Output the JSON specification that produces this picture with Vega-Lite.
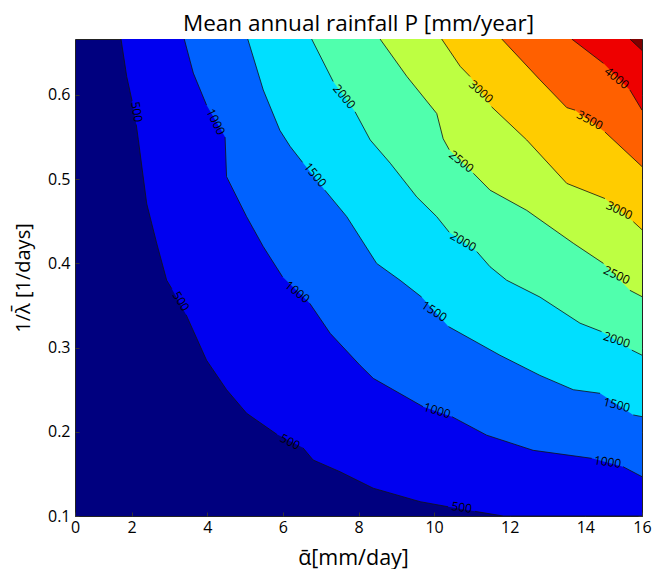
{
  "$schema": "https://vega.github.io/schema/vega-lite/v6.json",
  "width": 567,
  "height": 477,
  "autosize": "none",
  "padding": {"left": 75, "top": 39, "right": 22, "bottom": 53},
  "background": "white",
  "config": {
    "view": {"stroke": "#222222", "strokeWidth": 1, "fill": "#00007F"},
    "font": "Open Sans",
    "axis": {"grid": false, "domain": false, "zindex": 1, "tickColor": "#333333", "tickSize": -4, "labelFontSize": 16, "labelColor": "black", "titleFontSize": 20, "titleFontWeight": "normal", "titleColor": "black", "labelFont": "Open Sans", "titleFont": "Open Sans"}
  },
  "title": {"text": "Mean annual rainfall P [mm/year]", "fontSize": 22.5, "fontWeight": "normal", "font": "Open Sans", "color": "black", "offset": 3},
  "datasets": {
    "c": [
      {"level": 500, "seg": 1, "x": 1.717, "y": 0.6665},
      {"level": 500, "seg": 1, "x": 1.868, "y": 0.622},
      {"level": 500, "seg": 1, "x": 2.01, "y": 0.593},
      {"level": 500, "seg": 2, "x": 2.12, "y": 0.565},
      {"level": 500, "seg": 2, "x": 2.175, "y": 0.547},
      {"level": 500, "seg": 2, "x": 2.397, "y": 0.471},
      {"level": 500, "seg": 2, "x": 2.661, "y": 0.424},
      {"level": 500, "seg": 2, "x": 2.926, "y": 0.38},
      {"level": 500, "seg": 2, "x": 3.06, "y": 0.37},
      {"level": 500, "seg": 3, "x": 3.44, "y": 0.339},
      {"level": 500, "seg": 3, "x": 3.98, "y": 0.285},
      {"level": 500, "seg": 3, "x": 4.51, "y": 0.25},
      {"level": 500, "seg": 3, "x": 5.04, "y": 0.222},
      {"level": 500, "seg": 3, "x": 5.84, "y": 0.197},
      {"level": 500, "seg": 4, "x": 6.53, "y": 0.181},
      {"level": 500, "seg": 4, "x": 6.8, "y": 0.1665},
      {"level": 500, "seg": 4, "x": 7.51, "y": 0.1526},
      {"level": 500, "seg": 4, "x": 8.39, "y": 0.133},
      {"level": 500, "seg": 4, "x": 9.63, "y": 0.117},
      {"level": 500, "seg": 4, "x": 10.37, "y": 0.111},
      {"level": 500, "seg": 5, "x": 11.08, "y": 0.1055},
      {"level": 500, "seg": 5, "x": 11.83, "y": 0.1},
      {"level": 500, "seg": 5, "x": 15.5, "y": 0.1},
      {"level": 1000, "seg": 1, "x": 3.39, "y": 0.6665},
      {"level": 1000, "seg": 1, "x": 3.63, "y": 0.626},
      {"level": 1000, "seg": 1, "x": 3.98, "y": 0.588},
      {"level": 1000, "seg": 2, "x": 4.47, "y": 0.55},
      {"level": 1000, "seg": 2, "x": 4.51, "y": 0.503},
      {"level": 1000, "seg": 2, "x": 5.04, "y": 0.4555},
      {"level": 1000, "seg": 2, "x": 5.48, "y": 0.42},
      {"level": 1000, "seg": 2, "x": 5.99, "y": 0.384},
      {"level": 1000, "seg": 3, "x": 6.71, "y": 0.3526},
      {"level": 1000, "seg": 3, "x": 7.25, "y": 0.317},
      {"level": 1000, "seg": 3, "x": 8.04, "y": 0.279},
      {"level": 1000, "seg": 3, "x": 8.39, "y": 0.2635},
      {"level": 1000, "seg": 3, "x": 9.71, "y": 0.2298},
      {"level": 1000, "seg": 4, "x": 10.47, "y": 0.218},
      {"level": 1000, "seg": 4, "x": 11.39, "y": 0.196},
      {"level": 1000, "seg": 4, "x": 12.62, "y": 0.178},
      {"level": 1000, "seg": 4, "x": 14.17, "y": 0.1685},
      {"level": 1000, "seg": 5, "x": 15.0, "y": 0.1585},
      {"level": 1000, "seg": 5, "x": 15.5, "y": 0.1467},
      {"level": 1500, "seg": 1, "x": 5.07, "y": 0.6665},
      {"level": 1500, "seg": 1, "x": 5.48, "y": 0.606},
      {"level": 1500, "seg": 1, "x": 5.92, "y": 0.558},
      {"level": 1500, "seg": 1, "x": 6.19, "y": 0.539},
      {"level": 1500, "seg": 1, "x": 6.52, "y": 0.52},
      {"level": 1500, "seg": 2, "x": 7.11, "y": 0.487},
      {"level": 1500, "seg": 2, "x": 7.69, "y": 0.4555},
      {"level": 1500, "seg": 2, "x": 8.48, "y": 0.4},
      {"level": 1500, "seg": 2, "x": 9.1, "y": 0.38},
      {"level": 1500, "seg": 2, "x": 9.67, "y": 0.36},
      {"level": 1500, "seg": 3, "x": 10.38, "y": 0.325},
      {"level": 1500, "seg": 3, "x": 11.74, "y": 0.291},
      {"level": 1500, "seg": 3, "x": 12.8, "y": 0.267},
      {"level": 1500, "seg": 3, "x": 13.68, "y": 0.25},
      {"level": 1500, "seg": 3, "x": 14.39, "y": 0.2457},
      {"level": 1500, "seg": 4, "x": 15.27, "y": 0.22},
      {"level": 1500, "seg": 4, "x": 15.5, "y": 0.218},
      {"level": 2000, "seg": 1, "x": 6.76, "y": 0.6665},
      {"level": 2000, "seg": 1, "x": 7.33, "y": 0.616},
      {"level": 2000, "seg": 2, "x": 7.91, "y": 0.58},
      {"level": 2000, "seg": 2, "x": 8.31, "y": 0.5466},
      {"level": 2000, "seg": 2, "x": 8.84, "y": 0.519},
      {"level": 2000, "seg": 2, "x": 9.54, "y": 0.479},
      {"level": 2000, "seg": 2, "x": 10.07, "y": 0.4555},
      {"level": 2000, "seg": 2, "x": 10.4, "y": 0.437},
      {"level": 2000, "seg": 3, "x": 11.13, "y": 0.414},
      {"level": 2000, "seg": 3, "x": 11.48, "y": 0.396},
      {"level": 2000, "seg": 3, "x": 11.92, "y": 0.38},
      {"level": 2000, "seg": 3, "x": 12.8, "y": 0.36},
      {"level": 2000, "seg": 3, "x": 13.86, "y": 0.329},
      {"level": 2000, "seg": 3, "x": 14.43, "y": 0.319},
      {"level": 2000, "seg": 4, "x": 15.23, "y": 0.297},
      {"level": 2000, "seg": 4, "x": 15.5, "y": 0.291},
      {"level": 2500, "seg": 1, "x": 8.57, "y": 0.6665},
      {"level": 2500, "seg": 1, "x": 9.28, "y": 0.622},
      {"level": 2500, "seg": 1, "x": 10.07, "y": 0.578},
      {"level": 2500, "seg": 1, "x": 10.24, "y": 0.548},
      {"level": 2500, "seg": 1, "x": 10.4, "y": 0.535},
      {"level": 2500, "seg": 2, "x": 11.04, "y": 0.507},
      {"level": 2500, "seg": 2, "x": 11.48, "y": 0.487},
      {"level": 2500, "seg": 2, "x": 12.45, "y": 0.463},
      {"level": 2500, "seg": 2, "x": 13.68, "y": 0.424},
      {"level": 2500, "seg": 2, "x": 14.48, "y": 0.4},
      {"level": 2500, "seg": 3, "x": 15.18, "y": 0.368},
      {"level": 2500, "seg": 3, "x": 15.5, "y": 0.3605},
      {"level": 3000, "seg": 1, "x": 10.2, "y": 0.6665},
      {"level": 3000, "seg": 1, "x": 10.69, "y": 0.634},
      {"level": 3000, "seg": 1, "x": 10.95, "y": 0.622},
      {"level": 3000, "seg": 2, "x": 11.52, "y": 0.586},
      {"level": 3000, "seg": 2, "x": 12.45, "y": 0.5466},
      {"level": 3000, "seg": 2, "x": 13.51, "y": 0.495},
      {"level": 3000, "seg": 2, "x": 14.52, "y": 0.477},
      {"level": 3000, "seg": 3, "x": 15.27, "y": 0.4495},
      {"level": 3000, "seg": 3, "x": 15.5, "y": 0.44},
      {"level": 3500, "seg": 1, "x": 11.79, "y": 0.6665},
      {"level": 3500, "seg": 1, "x": 12.8, "y": 0.618},
      {"level": 3500, "seg": 1, "x": 13.51, "y": 0.585},
      {"level": 3500, "seg": 1, "x": 13.73, "y": 0.582},
      {"level": 3500, "seg": 2, "x": 14.52, "y": 0.556},
      {"level": 3500, "seg": 2, "x": 15.5, "y": 0.515},
      {"level": 4000, "seg": 1, "x": 13.64, "y": 0.6665},
      {"level": 4000, "seg": 1, "x": 14.48, "y": 0.6376},
      {"level": 4000, "seg": 2, "x": 15.18, "y": 0.606},
      {"level": 4000, "seg": 2, "x": 15.5, "y": 0.582},
      {"level": 4500, "seg": 1, "x": 15.18, "y": 0.6665},
      {"level": 4500, "seg": 1, "x": 15.5, "y": 0.653}
    ],
    "lab": [
      {"t": "500", "x": 2.13, "y": 0.58, "a": 80},
      {"t": "500", "x": 3.3, "y": 0.355, "a": 58},
      {"t": "500", "x": 6.19, "y": 0.188, "a": 27},
      {"t": "500", "x": 10.73, "y": 0.11, "a": 8},
      {"t": "1000", "x": 4.22, "y": 0.568, "a": 64},
      {"t": "1000", "x": 6.38, "y": 0.366, "a": 38},
      {"t": "1000", "x": 10.08, "y": 0.225, "a": 17},
      {"t": "1000", "x": 14.59, "y": 0.164, "a": 8},
      {"t": "1500", "x": 6.85, "y": 0.505, "a": 50},
      {"t": "1500", "x": 10.0, "y": 0.343, "a": 33},
      {"t": "1500", "x": 14.83, "y": 0.232, "a": 14},
      {"t": "2000", "x": 7.62, "y": 0.598, "a": 50},
      {"t": "2000", "x": 10.77, "y": 0.426, "a": 30},
      {"t": "2000", "x": 14.83, "y": 0.309, "a": 18},
      {"t": "2500", "x": 10.72, "y": 0.521, "a": 38},
      {"t": "2500", "x": 14.83, "y": 0.386, "a": 25},
      {"t": "3000", "x": 11.24, "y": 0.604, "a": 42},
      {"t": "3000", "x": 14.9, "y": 0.463, "a": 25},
      {"t": "3500", "x": 14.12, "y": 0.57, "a": 28},
      {"t": "4000", "x": 14.83, "y": 0.62, "a": 38}
    ]
  },
  "layer": [
    {
      "data": {"name": "c"},
      "mark": {"type": "area", "clip": true, "interpolate": "linear"},
      "encoding": {
        "x": {"field": "x", "type": "quantitative", "scale": {"domain": [0.5, 15.5], "nice": false, "zero": false},
          "axis": {"values": [0.5, 2, 4, 6, 8, 10, 12, 14, 15.5], "labelExpr": "datum.value < 1 ? '0' : (datum.value > 15 ? '16' : datum.label)", "title": "ᾱ[mm/day]", "titleFontSize": 21.5, "titleX": 278, "labelPadding": 7, "titlePadding": 12, "labelFlush": false, "labelBound": false}},
        "y": {"field": "y", "type": "quantitative", "stack": null, "scale": {"domain": [0.1, 0.6665], "nice": false, "zero": false},
          "axis": {"values": [0.1, 0.2, 0.3, 0.4, 0.5, 0.6], "format": ".1f", "title": "1/λ̄ [1/days]", "labelPadding": 9, "titlePadding": 14}},
        "y2": {"datum": 0.6665},
        "color": {"field": "level", "type": "ordinal", "legend": null,
          "scale": {"domain": [500, 1000, 1500, 2000, 2500, 3000, 3500, 4000, 4500],
            "range": ["#0000F0", "#0062FF", "#00DFFF", "#50FFAD", "#BDFF42", "#FFCC00", "#FF6000", "#EE0000", "#800000"]}}
      }
    },
    {
      "data": {"name": "c"},
      "mark": {"type": "line", "clip": true, "color": "#111111", "strokeWidth": 0.8},
      "encoding": {
        "x": {"field": "x", "type": "quantitative", "axis": {"orient": "top", "labels": false, "title": null, "values": [2, 4, 6, 8, 10, 12, 14]}},
        "y": {"field": "y", "type": "quantitative", "axis": {"orient": "right", "labels": false, "title": null, "values": [0.1, 0.2, 0.3, 0.4, 0.5, 0.6]}},
        "detail": [{"field": "level"}, {"field": "seg"}]
      }
    },
    {
      "data": {"name": "lab"},
      "mark": {"type": "text", "fontSize": 12, "font": "Open Sans", "color": "black", "align": "center", "baseline": "middle"},
      "encoding": {
        "x": {"field": "x", "type": "quantitative", "axis": null},
        "y": {"field": "y", "type": "quantitative", "axis": null},
        "text": {"field": "t"},
        "angle": {"field": "a", "type": "quantitative", "scale": null}
      }
    }
  ],
  "resolve": {"axis": {"x": "independent", "y": "independent"}}
}
